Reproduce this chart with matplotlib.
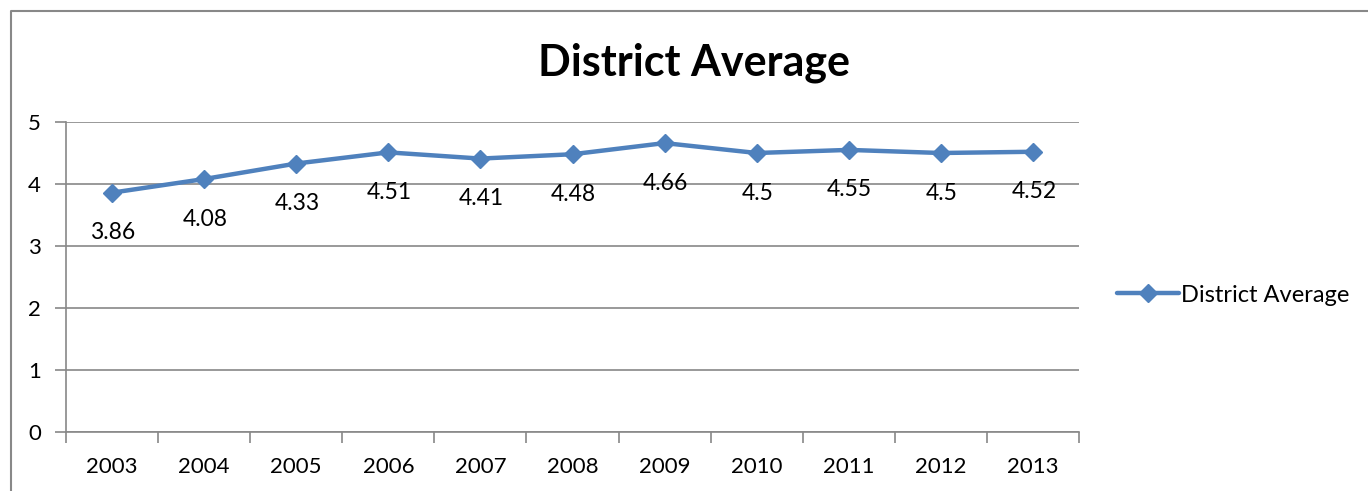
import matplotlib.pyplot as plt
from matplotlib.lines import Line2D

years = ["2003", "2004", "2005", "2006", "2007", "2008", "2009", "2010", "2011", "2012", "2013"]
averages = [3.86, 4.08, 4.33, 4.51, 4.41, 4.48, 4.66, 4.5, 4.55, 4.5, 4.52]
labels = ["3.86", "4.08", "4.33", "4.51", "4.41", "4.48", "4.66", "4.5", "4.55", "4.5", "4.52"]

plt.rcParams['font.family'] = ['Lato', 'DejaVu Sans']
blue = "#4F81BD"
grey = "#888888"

fig = plt.figure(figsize=(13.68, 4.91), dpi=100)
ax = fig.add_axes([66 / 1368, 1 - 432 / 491, 1013 / 1368, 310 / 491])

x = list(range(len(years)))
ax.plot(x, averages, color=blue, lw=3.2, marker="D", markersize=9,
        label="District Average", solid_capstyle="round")

for xi, yi, lab in zip(x, averages, labels):
    ax.annotate(lab, (xi, yi), xytext=(1, -40), textcoords="offset pixels",
                ha="center", va="center", fontsize=16.5)

ax.set_xlim(-0.5, len(years) - 0.5)
ax.set_ylim(0, 5)
ax.set_yticks([0, 1, 2, 3, 4, 5])
ax.set_xticks(x)
ax.set_xticklabels(years, fontsize=16)
ax.set_xticks([i - 0.5 for i in range(len(years) + 1)], minor=True)
ax.tick_params(axis="x", which="major", length=0, pad=18)
ax.tick_params(axis="x", which="minor", length=8, color=grey, width=1.2)
ax.tick_params(axis="y", length=8, color=grey, width=1.2, labelsize=16, pad=10)
ax.grid(axis="y", color=grey, lw=1.2)
ax.set_axisbelow(True)
for s in ["top", "right"]:
    ax.spines[s].set_visible(False)
for s in ["left", "bottom"]:
    ax.spines[s].set_color(grey)
    ax.spines[s].set_linewidth(1.2)

fig.text(694 / 1368, 1 - 63 / 491, "District Average", ha="center", va="center",
         fontsize=31, fontweight="bold")

ax.legend(loc="center left", bbox_to_anchor=(1108 / 1368, 1 - 295 / 491),
          bbox_transform=fig.transFigure, frameon=False, fontsize=17,
          handlelength=2.6, handletextpad=0.1, borderaxespad=0)

fig.add_artist(Line2D([11 / 1368, 11 / 1368, 1], [0, 1 - 11 / 491, 1 - 11 / 491],
                      transform=fig.transFigure, color=grey, lw=1.5))

fig.savefig("out.png", dpi=100)
